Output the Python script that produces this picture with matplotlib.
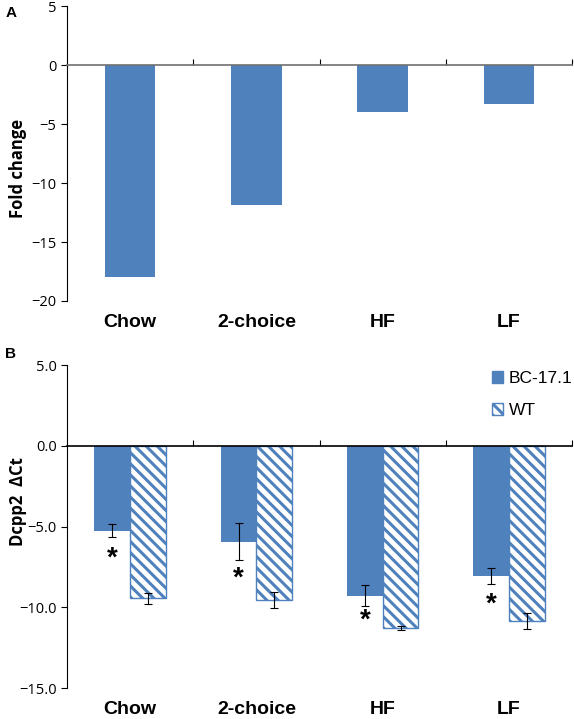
import matplotlib
matplotlib.use("Agg")
import matplotlib.pyplot as plt
from matplotlib.patches import Patch
import numpy as np

# data
diets = ["Chow", "2-choice", "HF", "LF"]
fold_change = [-18.0, -11.9, -4.0, -3.3]

bc_dct = [-5.25, -5.95, -9.27, -8.07]
bc_err = [0.4, 1.15, 0.68, 0.5]
wt_dct = [-9.45, -9.55, -11.3, -10.86]
wt_err = [0.33, 0.48, 0.12, 0.5]
star_y = [-7.0, -8.25, -10.85, -9.85]

blue = "#4F81BD"
plt.rcParams['font.family'] = ['Open Sans', 'DejaVu Sans']
plt.rcParams['hatch.linewidth'] = 2.2

fig = plt.figure(figsize=(5.74, 7.19), dpi=100)
axA = fig.add_axes([0.1167, 0.5814, 0.88, 0.410])
axB = fig.add_axes([0.1167, 0.0431, 0.88, 0.449])

x = np.arange(len(diets))

def style(ax, ylim, yticks, fmt, zero_color):
    ax.set_xlim(-0.5, 3.5)
    ax.set_ylim(*ylim)
    ax.set_yticks(yticks)
    ax.set_yticklabels([fmt(v).replace("-", "\u2212") for v in yticks], fontsize=10.5)
    for s in ["top", "right"]:
        ax.spines[s].set_visible(False)
    ax.spines["bottom"].set_position(("data", 0))
    ax.spines["bottom"].set_color(zero_color)
    ax.spines["bottom"].set_linewidth(1.2)
    ax.set_xticks([0.5, 1.5, 2.5, 3.5])
    ax.set_xticklabels([])
    ax.tick_params(axis="x", direction="in", length=4, color="black")
    ax.tick_params(axis="y", direction="out", length=4)
    for xi, d in zip(x, diets):
        ax.annotate(d, (xi, 0), xycoords=("data", "axes fraction"),
                    xytext=(0, -15.5), textcoords="offset points",
                    ha="center", va="center", fontsize=14, fontweight="bold",
                    family=["Liberation Sans", "DejaVu Sans"])

# panel A
axA.bar(x, fold_change, width=0.4, color=blue, zorder=2)
style(axA, (-20, 5), [5, 0, -5, -10, -15, -20], lambda v: "%d" % v, "#707070")

# panel B
w = 0.283
axB.bar(x - w / 2, bc_dct, width=w, color=blue, zorder=2, label="BC-17.1")
axB.bar(x + w / 2, wt_dct, width=w, color="white", edgecolor=blue, hatch="\\\\\\",
        linewidth=1.0, zorder=2, label="WT")
axB.errorbar(x - w / 2, bc_dct, yerr=bc_err, fmt="none", ecolor="black",
             elinewidth=0.8, capsize=3, capthick=0.8, zorder=3)
axB.errorbar(x + w / 2, wt_dct, yerr=wt_err, fmt="none", ecolor="black",
             elinewidth=0.8, capsize=3, capthick=0.8, zorder=3)
for xi, sy in zip(x, star_y):
    axB.text(xi - w / 2, sy, "*", ha="center", va="center", fontsize=20,
             fontweight="bold", family=["Liberation Sans", "DejaVu Sans"])
style(axB, (-15, 5), [5, 0, -5, -10, -15], lambda v: "%.1f" % v, "black")

handles = [Patch(facecolor=blue, edgecolor=blue),
           Patch(facecolor="white", edgecolor=blue, hatch="\\\\\\")]
axB.legend(handles, ["BC-17.1", "WT"], loc="upper left",
           bbox_to_anchor=(0.83, 0.506), bbox_transform=fig.transFigure,
           frameon=False, handlelength=0.65, handleheight=0.65,
           handletextpad=0.3, labelspacing=1.0,
           prop={"family": "Liberation Sans", "size": 12.5})

fig.text(0.009, 0.982, "A", fontsize=11, fontweight="bold", family="Liberation Sans", va="center")
fig.text(0.009, 0.508, "B", fontsize=11, fontweight="bold", family="Liberation Sans", va="center")
fig.text(0.032, 1 - 168 / 719, "Fold change", rotation=90, ha="center", va="center",
         fontsize=12, fontweight="bold")
fig.text(0.032, 1 - 502 / 719, "Dcpp2  \u0394Ct", rotation=90, ha="center", va="center",
         fontsize=12, fontweight="bold")

fig.savefig("out.png", dpi=100)
